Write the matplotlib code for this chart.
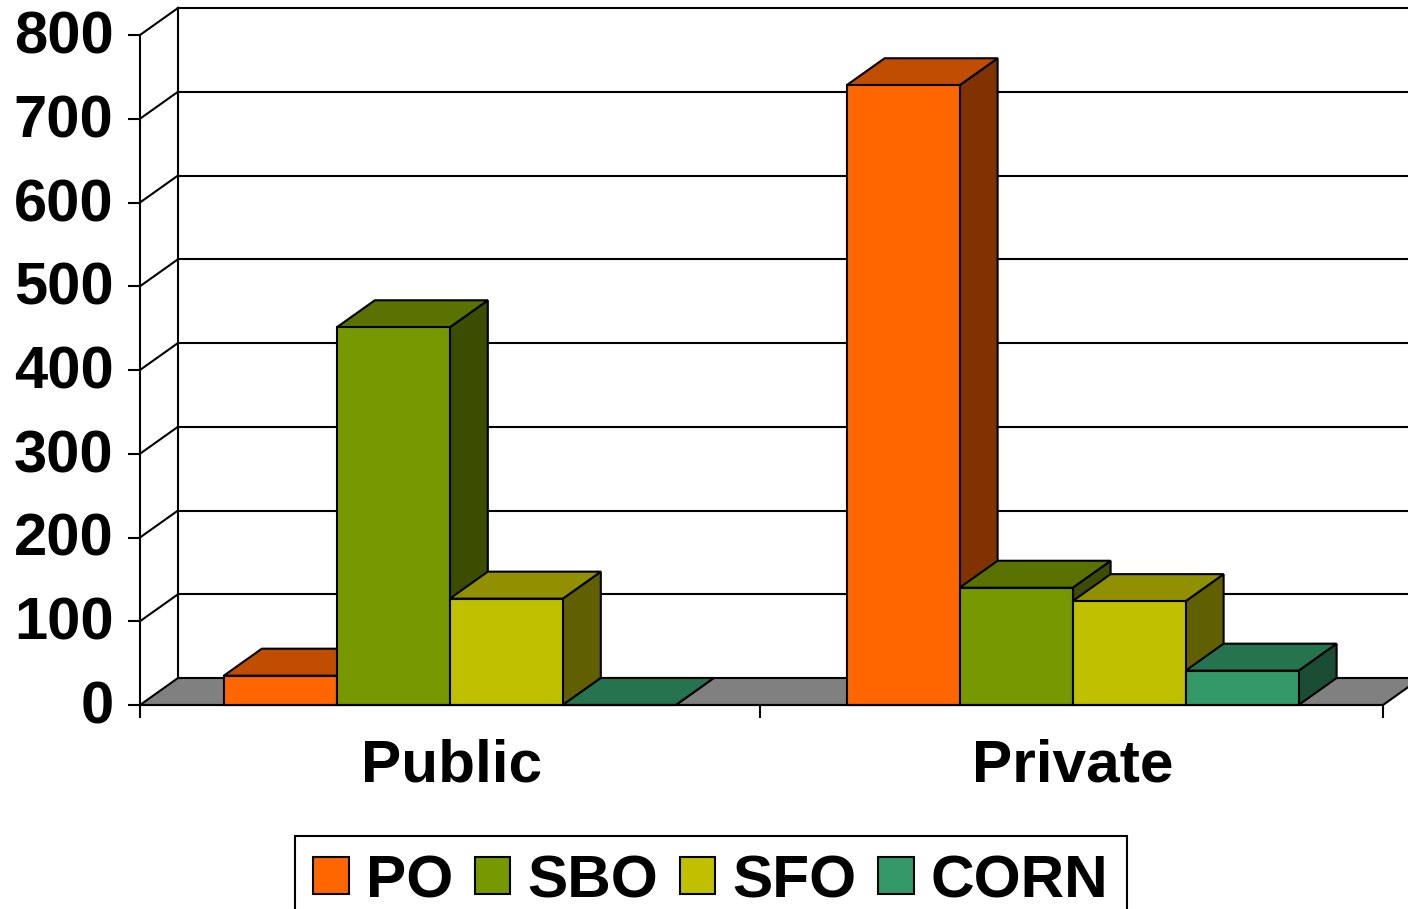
import matplotlib
matplotlib.use('Agg')
import matplotlib.pyplot as plt
from matplotlib.patches import Patch
from matplotlib.transforms import ScaledTranslation

plt.rcParams['font.family'] = ['Liberation Sans', 'DejaVu Sans']
plt.rcParams['font.weight'] = 'bold'

categories = ['Public', 'Private']
series_names = ['PO', 'SBO', 'SFO', 'CORN']
po = [35, 740]
sbo = [451, 140]
sfo = [127, 124]
corn = [0, 41]
y_ticks = [0, 100, 200, 300, 400, 500, 600, 700, 800]

front = ['#FF6600', '#789800', '#C0C000', '#339966']
top = ['#C04D00', '#5A7200', '#909000', '#267350']
side = ['#803300', '#3C4C00', '#606000', '#1A4D33']

W, H = 1408, 909
fig = plt.figure(figsize=(W / 100, H / 100), dpi=100)
ax = fig.add_axes([140 / W, 1 - 705 / H, (1383 - 140) / W, (705 - 35) / H])
ax.set_xlim(0, 2)
ax.set_ylim(0, 800)
ax.patch.set_visible(False)

# depth of the fake 3d box, in data units
dx = 38 / (1243 / 2)
dy = 27 / (670 / 800)
lw = 1.5
group_x = [0.4985, 1.5006]
label_x = [0.5015, 1.5]


def poly(xs, ys, color, z):
    ax.fill(xs, ys, facecolor=color, edgecolor='black', linewidth=lw,
            clip_on=False, zorder=z, joinstyle='miter')


# floor
poly([0, 2, 2 + dx, dx], [0, 0, dy, dy], '#808080', 1)
# walls and grid
for v in y_ticks:
    if v > 0:
        ax.plot([dx, 2 + dx], [v + dy, v + dy], color='black', lw=lw, clip_on=False, zorder=1)
        ax.plot([0, dx], [v, v + dy], color='black', lw=lw, clip_on=False, zorder=1)
ax.plot([dx, dx], [dy, 800 + dy], color='black', lw=lw, clip_on=False, zorder=1)

# bars, left to right so each front covers the neighbour's side
bar_w = 113 / (1243 / 2)
z = 3
values = [po, sbo, sfo, corn]
for c in range(len(categories)):
    x0 = group_x[c] - 2 * bar_w
    for s in range(len(series_names)):
        v = values[s][c]
        l = x0 + s * bar_w
        r = l + bar_w
        poly([r, r + dx, r + dx, r], [0, dy, v + dy, v], side[s], z)
        poly([l, r, r + dx, l + dx], [v, v, v + dy, v + dy], top[s], z)
        poly([l, r, r, l], [0, 0, v, v], front[s], z + 1)
        z += 2

for sp in ['top', 'right']:
    ax.spines[sp].set_visible(False)
ax.spines['left'].set_linewidth(lw)
ax.spines['bottom'].set_linewidth(lw)
ax.spines['bottom'].set_zorder(50)

ax.set_yticks(y_ticks)
ax.tick_params(axis='y', length=9, width=lw, labelsize=43, pad=10)
ax.set_xticks([0, 0.998, 2])
ax.set_xticklabels([])
ax.tick_params(axis='x', which='major', length=9, width=lw)
ax.set_xticks(label_x, minor=True)
ax.set_xticklabels(categories, minor=True, fontsize=43.5)
ax.tick_params(axis='x', which='minor', length=0, pad=24)

# move the y labels up a little
up = ScaledTranslation(0, 3 / 100, fig.dpi_scale_trans)
for lab in ax.get_yticklabels():
    lab.set_transform(lab.get_transform() + up)

handles = [Patch(facecolor=front[i], edgecolor='black', linewidth=lw, label=series_names[i])
           for i in range(4)]
leg = ax.legend(handles=handles, ncol=4, loc='upper left',
                bbox_to_anchor=(295 / W, 1 - 836 / H), bbox_transform=fig.transFigure,
                fontsize=43.5, frameon=True, fancybox=False, edgecolor='black', framealpha=1,
                borderpad=0.3, borderaxespad=0, handlelength=0.59, handleheight=0.56,
                handletextpad=0.28, columnspacing=0.36)
leg.get_frame().set_linewidth(lw)

fig.savefig('out.png', dpi=100)
